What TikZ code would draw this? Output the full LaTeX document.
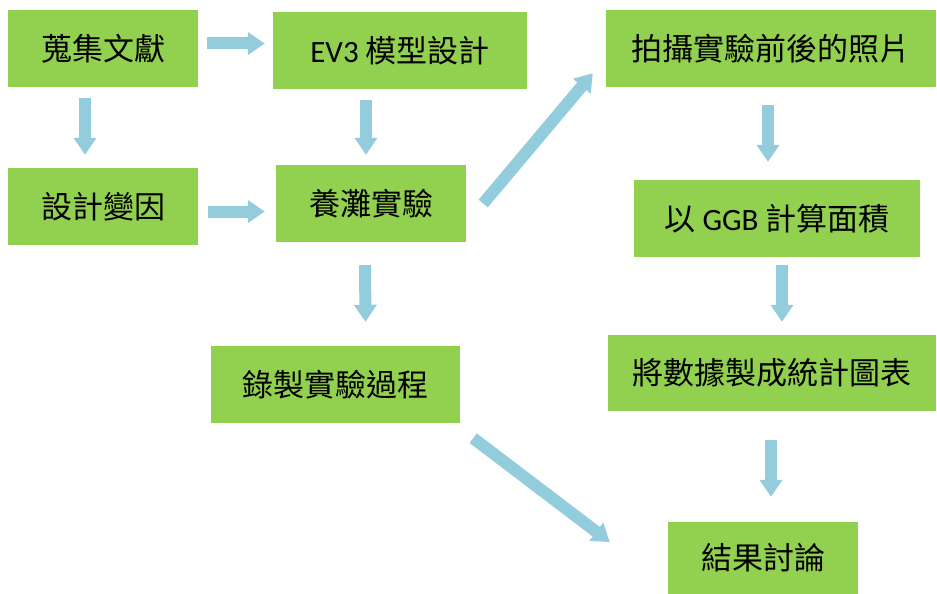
\documentclass[tikz,border=0pt]{standalone}
\usepackage{fontspec}
\setmainfont{Carlito}
\newfontfamily\cjk{Noto Sans CJK TC}
\usetikzlibrary{arrows.meta,calc}
\definecolor{boxgreen}{HTML}{92D050}
\definecolor{arrowblue}{HTML}{93CDDD}
\begin{document}
\begin{tikzpicture}[x=1pt,y=-1pt,
  stepbox/.style={fill=boxgreen, draw=none, inner sep=0pt, font=\fontsize{31}{36}\selectfont\cjk},
  blockarrow/.style={draw=arrowblue, line width=12pt, -{Triangle[width=22pt,length=17pt,fill=arrowblue]}}]
\useasboundingbox (0,0) rectangle (937,594);
\node[stepbox, minimum width=190pt, minimum height=77pt] (n1) at (103,48.5) {蒐集文獻};
\node[stepbox, minimum width=254pt, minimum height=77pt] (n2) at (400,50.5) {{\fontspec{Carlito}EV3} 模型設計};
\node[stepbox, minimum width=330pt, minimum height=77pt] (n3) at (771,48.5) {拍攝實驗前後的照片};
\node[stepbox, minimum width=190pt, minimum height=77pt] (n4) at (103,206.5) {設計變因};
\node[stepbox, minimum width=190pt, minimum height=77pt] (n5) at (371,203.5) {養灘實驗};
\node[stepbox, minimum width=286pt, minimum height=77pt] (n6) at (777,218.5) {以 {\fontspec{Carlito}GGB} 計算面積};
\node[stepbox, minimum width=249pt, minimum height=77pt] (n7) at (335.5,384.5) {錄製實驗過程};
\node[stepbox, minimum width=328pt, minimum height=76pt] (n8) at (772,373) {將數據製成統計圖表};
\node[stepbox, minimum width=190pt, minimum height=72pt] (n9) at (763,558) {結果討論};
\draw[blockarrow] ($(n1.east)+(9,-5)$) -- ($(n2.west)+(-8,-7)$);
\draw[blockarrow] ($(n1.south)+(-18,11)$) -- ($(n4.north)+(-18,-13)$);
\draw[blockarrow] ($(n4.east)+(10,5)$) -- ($(n5.west)+(-11,8)$);
\draw[blockarrow] ($(n2.south)+(-34,11)$) -- ($(n5.north)+(-5,-10)$);
\draw[blockarrow] ($(n5.south)+(-6,23)$) -- ($(n7.north)+(30,-24)$);
\draw[blockarrow] ($(n5.east)+(17,0)$) -- ($(n3.south west)+(-13,-14)$);
\draw[blockarrow] ($(n7.south east)+(13,15)$) -- ($(n9.west)+(-58,-16)$);
\draw[blockarrow] ($(n3.south)+(-3,18)$) -- ($(n6.north)+(-9,-18)$);
\draw[blockarrow] ($(n6.south)+(5,8)$) -- ($(n8.north)+(10,-13)$);
\draw[blockarrow] ($(n8.south)+(-1,29)$) -- ($(n9.north)+(8,-25)$);
\end{tikzpicture}
\end{document}
